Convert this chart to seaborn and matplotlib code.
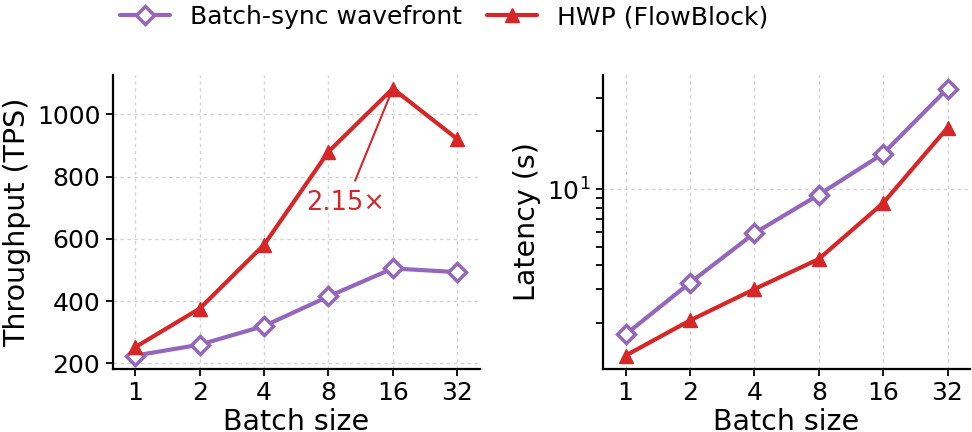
#!/usr/bin/env python3

import pandas as pd
from matplotlib import pyplot as plt
from matplotlib.ticker import NullLocator, FixedLocator, FixedFormatter
import seaborn as sns

batch = [1, 2, 4, 8, 16, 32]
sync_tps = [225, 260, 320, 415, 505, 493]
hwp_tps = [252, 376, 581, 880, 1083, 921]
sync_lat = [1.74, 3.24, 5.88, 9.34, 15.3, 33.5]
hwp_lat = [1.35, 2.06, 3.0, 4.31, 8.45, 20.9]

purple = "#9467bd"
red = "#d62728"

df = pd.DataFrame({
    "batch": batch,
    "sync_tps": sync_tps,
    "hwp_tps": hwp_tps,
    "sync_lat": sync_lat,
    "hwp_lat": hwp_lat,
})

sns.set_style("ticks")
plt.rcParams["font.family"] = ["DejaVu Sans"]
plt.rcParams["text.color"] = "black"
plt.rcParams["axes.labelcolor"] = "black"
plt.rcParams["axes.edgecolor"] = "black"
plt.rcParams["xtick.color"] = "black"
plt.rcParams["ytick.color"] = "black"
plt.rcParams["axes.linewidth"] = 1.6
plt.rcParams["xtick.major.width"] = 1.3
plt.rcParams["ytick.major.width"] = 1.3
plt.rcParams["ytick.minor.width"] = 1.3
plt.rcParams["xtick.major.size"] = 5
plt.rcParams["ytick.major.size"] = 5
plt.rcParams["ytick.minor.size"] = 5

fig = plt.figure(figsize=(9.72, 4.32), dpi=100)
gs = fig.add_gridspec(1, 2, left=0.116, right=0.998, bottom=0.146, top=0.826, wspace=0.336)
ax1 = fig.add_subplot(gs[0])
ax2 = fig.add_subplot(gs[1])

line_kw = dict(linewidth=3, markersize=10)

for ax, sync_col, hwp_col in [(ax1, "sync_tps", "hwp_tps"), (ax2, "sync_lat", "hwp_lat")]:
    sns.lineplot(data=df, x="batch", y=sync_col, ax=ax, color=purple, marker="D",
                 markerfacecolor="white", markeredgecolor=purple, markeredgewidth=2.5,
                 label="Batch-sync wavefront", linewidth=3, markersize=9, zorder=3)
    sns.lineplot(data=df, x="batch", y=hwp_col, ax=ax, color=red, marker="^",
                 markeredgecolor=red, markeredgewidth=1,
                 label="HWP (FlowBlock)", zorder=3, **line_kw)
    ax.set_xscale("log", base=2)
    ax.xaxis.set_major_locator(FixedLocator(batch))
    ax.xaxis.set_major_formatter(FixedFormatter([str(b) for b in batch]))
    ax.xaxis.set_minor_locator(NullLocator())
    ax.set_xlim(2 ** -0.35, 2 ** 5.35)
    ax.set_xlabel("Batch size", fontsize=20.5, labelpad=2)
    ax.tick_params(labelsize=18, pad=4)
    ax.grid(True, which="major", linestyle=(0, (2.5, 2.5)), color="#d4d4d4", linewidth=1.0)
    ax.get_legend().remove()
    sns.despine(ax=ax)

ax1.set_ylabel("Throughput (TPS)", fontsize=20.5, labelpad=4)
ax2.set_yscale("log")
ax2.set_ylabel("Latency (s)", fontsize=20.5, labelpad=4)

ax1.annotate("2.15×", xy=(16, 1083), xytext=(2 ** 3.27, 714),
             ha="center", va="center", fontsize=18.5, color=red,
             arrowprops=dict(arrowstyle="-", color=red, lw=1.5, shrinkA=5, shrinkB=0))

handles, labels = ax1.get_legend_handles_labels()
fig.legend(handles, labels, loc="upper center", bbox_to_anchor=(0.457, 1.04), ncol=2,
           frameon=False, fontsize=18, columnspacing=1.0, handlelength=2.0)

fig.savefig("out.png", dpi=100)
